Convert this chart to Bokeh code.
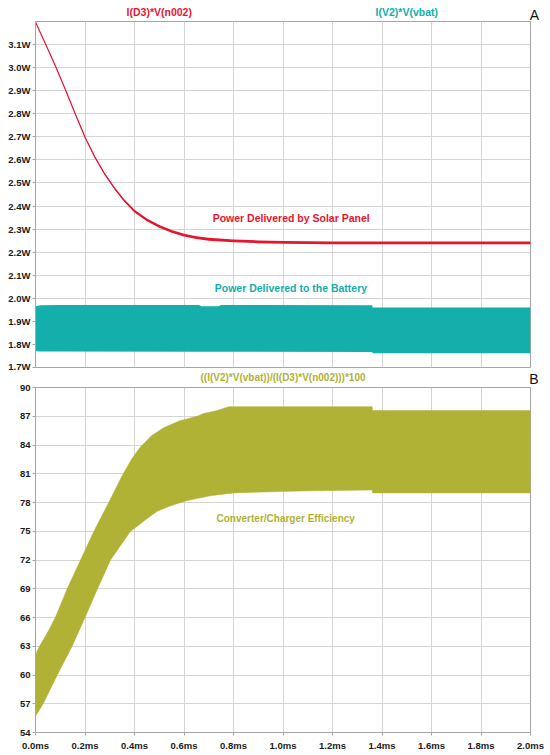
from bokeh.plotting import figure
from bokeh.layouts import column
from bokeh.models import FixedTicker, Range1d
from bokeh.core.properties import value
from bokeh.embed import file_html
from bokeh.resources import INLINE

# ---------------- data ----------------
time_ticks = [0.0, 0.2, 0.4, 0.6, 0.8, 1.0, 1.2, 1.4, 1.6, 1.8, 2.0]
time_labels = ["0.0ms", "0.2ms", "0.4ms", "0.6ms", "0.8ms", "1.0ms",
               "1.2ms", "1.4ms", "1.6ms", "1.8ms", "2.0ms"]
power_ticks = [1.7, 1.8, 1.9, 2.0, 2.1, 2.2, 2.3, 2.4, 2.5, 2.6, 2.7, 2.8, 2.9, 3.0, 3.1]
power_labels = ["1.7W", "1.8W", "1.9W", "2.0W", "2.1W", "2.2W", "2.3W", "2.4W",
                "2.5W", "2.6W", "2.7W", "2.8W", "2.9W", "3.0W", "3.1W"]
eff_ticks = [54, 57, 60, 63, 66, 69, 72, 75, 78, 81, 84, 87, 90]
eff_labels = ["54", "57", "60", "63", "66", "69", "72", "75", "78", "81", "84", "87", "90"]

# Power delivered by solar panel, I(D3)*V(n002)  [ms, W]
solar_t = [0.0, 0.04, 0.081, 0.121, 0.162, 0.202, 0.24, 0.28, 0.32, 0.357, 0.40,
           0.45, 0.50, 0.55, 0.60, 0.65, 0.70, 0.80, 0.90, 1.0, 1.2, 2.0]
solar_p = [3.198, 3.104, 3.006, 2.904, 2.796, 2.694, 2.612, 2.538, 2.476, 2.426, 2.378,
           2.340, 2.312, 2.290, 2.274, 2.263, 2.256, 2.249, 2.245, 2.242, 2.240, 2.240]
# half-width of the switching ripple on that trace [W]
solar_ripple = [0.0, 0.0004, 0.0008, 0.0012, 0.0018, 0.0025, 0.0032, 0.004, 0.0046, 0.005, 0.0055,
                0.006, 0.006, 0.006, 0.006, 0.006, 0.006, 0.006, 0.006, 0.006, 0.006, 0.006]

# Power delivered to the battery, I(V2)*V(vbat): ripple envelope [ms, W]
batt_t = [0.0, 0.02, 0.10, 0.66, 0.67, 0.74, 0.75, 1.36, 1.362, 2.0]
batt_hi = [1.965, 1.970, 1.971, 1.971, 1.966, 1.966, 1.971, 1.970, 1.960, 1.960]
batt_lo = [1.770, 1.769, 1.769, 1.768, 1.768, 1.768, 1.768, 1.767, 1.762, 1.762]

# Converter/charger efficiency ripple envelope [ms, %]
eff_hi_t = [0.0, 0.005, 0.016, 0.05, 0.08, 0.128, 0.182, 0.236, 0.296, 0.35, 0.39, 0.424,
            0.47, 0.518, 0.58, 0.653, 0.68, 0.734, 0.78, 1.0, 1.36, 1.362, 2.0]
eff_hi = [61.8, 62.4, 63.0, 64.5, 66.0, 69.0, 72.0, 75.0, 78.0, 80.8, 82.6, 83.8,
          85.0, 85.8, 86.5, 87.0, 87.3, 87.6, 88.0, 88.0, 88.0, 87.6, 87.6]
eff_lo_t = [0.0, 0.031, 0.088, 0.148, 0.202, 0.242, 0.303, 0.384, 0.45, 0.492, 0.55,
            0.613, 0.707, 0.80, 1.07, 1.36, 1.362, 2.0]
eff_lo = [55.7, 57.0, 60.0, 63.0, 66.1, 68.5, 72.0, 75.0, 76.3, 77.1, 77.7,
          78.2, 78.7, 79.0, 79.2, 79.3, 79.0, 79.0]

# ---------------- styling / layout ----------------
RED = "#e8152f"
TEAL = "#14aeab"
OLIVE = "#b0b236"
GRID = "#d4d4d4"
FRAME = "#a6a6a6"
INK = "#1c1c1c"
FONT = "Liberation Sans"

W = 548
LEFT = 35
RIGHT = 18
FRAME_W = W - LEFT - RIGHT
T0, T1 = time_ticks[0], time_ticks[-1]
PX = FRAME_W / (T1 - T0)          # pixels per ms


def style(p, show_x):
    p.outline_line_color = FRAME
    p.background_fill_color = "white"
    p.border_fill_color = "white"
    for g in (p.xgrid, p.ygrid):
        g.grid_line_color = GRID
        g.grid_line_width = 1
    p.xgrid.ticker = FixedTicker(ticks=time_ticks)
    ax = p.yaxis[0]
    ax.axis_line_color = FRAME
    ax.major_tick_line_color = FRAME
    ax.major_tick_out = 3
    ax.major_tick_in = 0
    ax.minor_tick_out = 0
    ax.minor_tick_in = 0
    ax.major_label_standoff = 2
    ax.major_label_text_font = FONT
    ax.major_label_text_font_size = "9.5px"
    ax.major_label_text_font_style = "bold"
    ax.major_label_text_color = INK
    bx = p.xaxis[0]
    if show_x:
        bx.ticker = FixedTicker(ticks=time_ticks)
        bx.major_label_overrides = {t: l for t, l in zip(time_ticks, time_labels)}
        bx.axis_line_color = FRAME
        bx.major_tick_line_color = FRAME
        bx.major_tick_out = 3
        bx.major_tick_in = 0
        bx.minor_tick_out = 0
        bx.minor_tick_in = 0
        bx.major_label_standoff = 4
        bx.major_label_text_font = FONT
        bx.major_label_text_font_size = "9.5px"
        bx.major_label_text_font_style = "bold"
        bx.major_label_text_color = INK
    else:
        bx.visible = False


def strip(h):
    s = figure(width=W, height=h, x_range=Range1d(T0 - LEFT / PX, T0 + (W - LEFT) / PX),
               y_range=Range1d(0, h), output_backend="svg", toolbar_location=None,
               x_axis_location=None, y_axis_location=None, title=None,
               min_border=0, min_border_left=0, min_border_right=0,
               min_border_top=0, min_border_bottom=0)
    try:
        s.frame_align = False      # keep this strip's frame out of the column alignment
    except Exception:
        pass
    s.grid.visible = False
    s.outline_line_color = None
    s.background_fill_color = "white"
    s.border_fill_color = "white"
    return s


def txt(p, xs, ys, texts, color, size="10px", bold=True):
    p.text(x=xs, y=ys, text=texts, text_color=color, text_font=value(FONT),
           text_font_size=value(size), text_font_style="bold" if bold else "normal",
           text_align="center", text_baseline="middle")


# ---------------- header of panel A ----------------
hA = 21
head = strip(hA)
txt(head, [0.5], [hA - 11.7], ["I(D3)*V(n002)"], RED, size="10.5px")
txt(head, [1.5], [hA - 11.7], ["I(V2)*V(vbat)"], TEAL, size="10.5px")
txt(head, [T1 + 4 / PX], [hA - 14.0], ["A"], "#111111", size="14px", bold=False)

# ---------------- panel A ----------------
pA = figure(width=W, height=350, x_range=Range1d(T0, T1), y_range=Range1d(1.7, 3.2),
            output_backend="svg", toolbar_location=None,
            min_border_left=LEFT, min_border_right=RIGHT, min_border_top=0, min_border_bottom=4)
style(pA, False)
pA.yaxis[0].ticker = FixedTicker(ticks=power_ticks)
pA.yaxis[0].major_label_overrides = {t: l for t, l in zip(power_ticks, power_labels)}

pA.varea(x=batt_t, y1=batt_lo, y2=batt_hi, fill_color=TEAL, fill_alpha=1.0)
solar_hi = [p + r for p, r in zip(solar_p, solar_ripple)]
solar_lo = [p - r for p, r in zip(solar_p, solar_ripple)]
pA.varea(x=solar_t, y1=solar_lo, y2=solar_hi, fill_color=RED, fill_alpha=1.0)
pA.line(solar_t, solar_p, line_color=RED, line_width=1.2)

txt(pA, [1.033], [2.347], ["Power Delivered by Solar Panel"], RED, size="10.5px")
txt(pA, [1.032], [2.044], ["Power Delivered to the Battery"], TEAL, size="10.5px")

# ---------------- header of panel B ----------------
hB = 13
mid = strip(hB)
txt(mid, [1.0], [hB - 5.8], ["((I(V2)*V(vbat))/(I(D3)*V(n002)))*100"], OLIVE)
txt(mid, [T1 + 3.5 / PX], [hB - 7.0], ["B"], "#111111", size="14px", bold=False)

# ---------------- panel B ----------------
pB = figure(width=W, height=369, x_range=Range1d(T0, T1), y_range=Range1d(54, 90),
            output_backend="svg", toolbar_location=None,
            min_border_left=LEFT, min_border_right=RIGHT, min_border_top=3, min_border_bottom=20)
style(pB, True)
pB.yaxis[0].ticker = FixedTicker(ticks=eff_ticks)
pB.yaxis[0].major_label_overrides = {t: l for t, l in zip(eff_ticks, eff_labels)}

pB.patch(x=eff_hi_t + eff_lo_t[::-1], y=eff_hi + eff_lo[::-1],
         fill_color=OLIVE, fill_alpha=1.0, line_color=OLIVE, line_width=0.5)
txt(pB, [1.011], [76.38], ["Converter/Charger Efficiency"], OLIVE)

layout = column(head, pA, mid, pB, spacing=0)
open("out.html", "w").write(file_html(layout, INLINE))
